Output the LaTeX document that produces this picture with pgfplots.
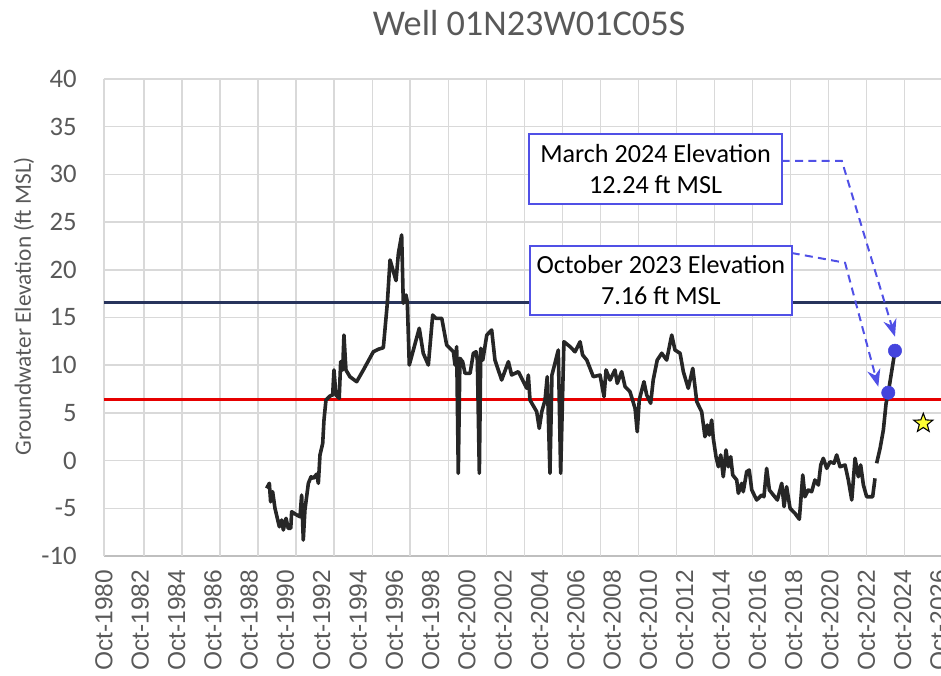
\documentclass[border=0pt]{standalone}
\usepackage{fontspec}
\setmainfont{Carlito}
\newfontfamily\arialfont{Liberation Sans}
\usepackage{pgfplots}
\pgfplotsset{compat=1.18}
\usetikzlibrary{arrows.meta}
\definecolor{gridgray}{HTML}{D9D9D9}
\definecolor{axisgray}{HTML}{BFBFBF}
\definecolor{labelgray}{HTML}{595959}
\definecolor{wellblack}{HTML}{262626}
\definecolor{navyline}{HTML}{28345C}
\definecolor{redline}{HTML}{E60000}
\definecolor{ptblue}{HTML}{4444DD}
\definecolor{annoblue}{HTML}{5050E6}
\definecolor{staryellow}{HTML}{FFFF33}

% filled five-point star with outline
\pgfdeclareplotmark{fivestar}{%
  \pgfpathmoveto{\pgfpointpolar{90}{\pgfplotmarksize}}%
  \pgfpathlineto{\pgfpointpolar{126}{0.42\pgfplotmarksize}}%
  \pgfpathlineto{\pgfpointpolar{162}{\pgfplotmarksize}}%
  \pgfpathlineto{\pgfpointpolar{198}{0.42\pgfplotmarksize}}%
  \pgfpathlineto{\pgfpointpolar{234}{\pgfplotmarksize}}%
  \pgfpathlineto{\pgfpointpolar{270}{0.42\pgfplotmarksize}}%
  \pgfpathlineto{\pgfpointpolar{306}{\pgfplotmarksize}}%
  \pgfpathlineto{\pgfpointpolar{342}{0.42\pgfplotmarksize}}%
  \pgfpathlineto{\pgfpointpolar{18}{\pgfplotmarksize}}%
  \pgfpathlineto{\pgfpointpolar{54}{0.42\pgfplotmarksize}}%
  \pgfpathclose
  \pgfusepathqfillstroke}

\begin{document}
\begin{tikzpicture}
\begin{axis}[
  scale only axis, width=627.75pt, height=357.75pt,
  xmin=1980.75, xmax=2026.866, ymin=-10, ymax=40,
  axis x line=bottom, axis y line=left, axis line style={-},
  x axis line style={draw=axisgray, line width=1.1pt},
  y axis line style={draw=gridgray, line width=1.1pt},
  major tick length=0pt,
  ytick={-10,-5,...,40}, ymajorgrids,
  grid style={draw=gridgray, line width=1.1pt},
  xtick={1980.75,1982.75,...,2026.75},
  xticklabels={Oct-1980,Oct-1982,Oct-1984,Oct-1986,Oct-1988,Oct-1990,Oct-1992,Oct-1994,Oct-1996,Oct-1998,Oct-2000,Oct-2002,Oct-2004,Oct-2006,Oct-2008,Oct-2010,Oct-2012,Oct-2014,Oct-2016,Oct-2018,Oct-2020,Oct-2022,Oct-2024,Oct-2026},
  extra x ticks={1982.96,1985.05,1987.15,1989.24,1991.34,1993.43,1995.53,1997.62,1999.72,2001.81,2003.91,2006.00,2008.10,2010.19,2012.29,2014.38,2016.48,2018.57,2020.67,2022.77,2024.86},
  extra x tick labels={},
  extra x tick style={grid=major},
  /pgf/number format/assume math mode=true,
  yticklabel style={font=\fontsize{20}{24}\selectfont, text=labelgray, xshift=-17pt},
  xticklabel style={font=\arialfont\fontsize{18.4}{22}\selectfont, text=labelgray, rotate=90, anchor=east, xshift=-6.75pt},
  ylabel={Groundwater Elevation (ft MSL)},
  ylabel style={at={(axis description cs:-0.0956,0.524)}, anchor=center, font=\fontsize{17.5}{20}\selectfont, text=labelgray},
  title={Well 01N23W01C05S},
  title style={at={(axis description cs:0.5078,1.1006)}, anchor=center, font=\fontsize{27.2}{32}\selectfont, text=labelgray},
  clip=false,
]
\coordinate (bl) at (rel axis cs:0,0);

% reference levels
\addplot[navyline, line width=2.3pt] coordinates {(1980.75,16.6) (2026.866,16.6)};
\addplot[redline, line width=2.3pt] coordinates {(1980.75,6.43) (2026.866,6.43)};

% groundwater elevation record
\addplot[wellblack, line width=2.7pt, line join=round] coordinates {
(1989.71,-2.90) (1989.86,-2.38) (1989.93,-4.31) (1990.04,-3.26) (1990.17,-5.00)
(1990.41,-6.93) (1990.54,-6.23) (1990.63,-7.27) (1990.78,-6.05) (1990.90,-7.10)
(1991.04,-7.10) (1991.09,-5.36) (1991.37,-5.70) (1991.55,-5.88) (1991.64,-3.61)
(1991.73,-8.32) (1991.82,-5.18) (1992.01,-2.38) (1992.16,-1.69) (1992.28,-1.86)
(1992.47,-1.41) (1992.56,-2.38) (1992.65,0.59) (1992.80,1.81) (1992.87,4.25)
(1992.98,6.35) (1993.20,6.77) (1993.35,6.88) (1993.42,9.50) (1993.53,6.88)
(1993.71,6.53) (1993.79,10.37) (1993.90,9.50) (1993.97,13.16) (1994.08,9.50)
(1994.30,8.79) (1994.67,8.27) (1995.04,9.50) (1995.59,11.41) (1995.86,11.67)
(1996.14,11.83) (1996.36,16.49) (1996.51,21.03) (1996.84,18.86) (1996.97,21.73)
(1997.15,23.65) (1997.24,16.49) (1997.39,17.36) (1997.46,16.66) (1997.57,10.02)
(1998.12,13.87) (1998.34,11.25) (1998.62,10.02) (1998.86,15.26) (1999.04,14.91)
(1999.36,14.91) (1999.63,12.12) (2000.00,11.41) (2000.09,10.02) (2000.18,11.94)
(2000.27,-1.33) (2000.36,10.72) (2000.51,10.37) (2000.64,9.15) (2000.92,9.15)
(2001.10,11.25) (2001.25,11.41) (2001.32,10.54) (2001.43,-1.33) (2001.51,11.77)
(2001.62,10.54) (2001.84,13.16) (2002.11,13.69) (2002.29,10.54) (2002.66,8.45)
(2003.03,10.37) (2003.21,8.97) (2003.58,9.32) (2004.04,7.58) (2004.13,8.97)
(2004.22,6.35) (2004.59,5.13) (2004.73,3.38) (2004.87,5.13) (2005.05,6.35)
(2005.17,8.79) (2005.32,-1.33) (2005.43,8.97) (2005.78,11.59) (2005.91,-1.33)
(2006.09,12.46) (2006.43,11.94) (2006.70,11.41) (2006.98,12.46) (2007.12,11.07)
(2007.35,10.54) (2007.71,8.79) (2008.08,8.97) (2008.30,6.70) (2008.41,9.50)
(2008.63,8.45) (2008.90,9.50) (2009.03,8.10) (2009.27,9.32) (2009.46,7.75)
(2009.73,7.22) (2010.01,5.48) (2010.13,3.03) (2010.24,6.35) (2010.50,8.27)
(2010.65,6.88) (2010.87,6.01) (2011.01,8.45) (2011.23,10.54) (2011.48,11.25)
(2011.75,10.54) (2012.03,13.16) (2012.21,11.59) (2012.49,11.25) (2012.67,9.32)
(2012.94,7.58) (2013.19,9.67) (2013.41,6.17) (2013.68,5.12) (2013.86,2.50)
(2013.99,3.73) (2014.10,2.68) (2014.23,4.25) (2014.32,2.34) (2014.47,0.41)
(2014.60,-0.64) (2014.73,0.59) (2014.87,-1.69) (2015.02,1.11) (2015.15,-0.64)
(2015.28,0.41) (2015.39,-1.51) (2015.61,-2.03) (2015.70,-3.43) (2015.89,-2.38)
(2015.97,-3.26) (2016.16,-1.16) (2016.30,-0.99) (2016.44,-3.08) (2016.71,-4.13)
(2016.99,-3.61) (2017.11,-3.79) (2017.26,-0.81) (2017.41,-3.08) (2017.63,-3.61)
(2017.85,-4.13) (2018.09,-2.38) (2018.22,-4.83) (2018.36,-2.74) (2018.55,-5.00)
(2018.82,-5.53) (2019.06,-6.15) (2019.25,-1.51) (2019.37,-3.79) (2019.55,-3.08)
(2019.74,-3.26) (2019.92,-2.03) (2020.11,-2.56) (2020.24,-0.46) (2020.38,0.24)
(2020.57,-0.81) (2020.75,-0.12) (2020.97,-0.28) (2021.12,0.59) (2021.30,-0.64)
(2021.58,-0.46) (2021.76,-2.03) (2021.95,-4.13) (2022.13,0.24) (2022.31,-1.69)
(2022.44,-0.46) (2022.59,-2.56) (2022.77,-3.79) (2022.95,-3.79) (2023.10,-3.79)
(2023.23,-1.86)
};
\addplot[wellblack, line width=2.7pt, line join=round] coordinates {
(2023.32,-0.28) (2023.51,1.29) (2023.69,3.21) (2023.84,6.01) (2023.96,7.12) (2024.33,11.52)
};

% highlighted readings
\addplot[only marks, mark=*, mark size=5pt, draw=ptblue, fill=ptblue] coordinates {
(2023.96,7.12) (2024.33,11.52)
};
\addplot[only marks, mark=fivestar, mark size=7.5pt, draw=black, fill=staryellow, line width=0.8pt] coordinates {
(2025.89,3.91)
};

% callouts
\draw[annoblue, line width=1.5pt, dash pattern=on 6pt off 4pt, -{Stealth[length=13pt,width=10pt]}]
  (axis cs:2018.09,31.43) -- (axis cs:2021.40,31.43) -- (axis cs:2024.33,12.99);
\draw[annoblue, line width=1.5pt, dash pattern=on 6pt off 4pt, -{Stealth[length=13pt,width=10pt]}]
  (axis cs:2018.64,21.76) -- (axis cs:2021.58,20.74) -- (axis cs:2023.41,7.75);
\node[draw=annoblue, line width=1.5pt, fill=white, minimum width=189.3pt, minimum height=52.5pt,
  inner sep=0pt, align=center, font=\fontsize{19.6}{23.3}\selectfont]
  at (axis cs:2011.14,30.57) {March 2024 Elevation\\12.24 ft MSL};
\node[draw=annoblue, line width=1.5pt, fill=white, minimum width=196.3pt, minimum height=51.75pt,
  inner sep=0pt, align=center, font=\fontsize{19.6}{23.3}\selectfont]
  at (axis cs:2011.43,18.88) {October 2023 Elevation\\7.16 ft MSL};
\end{axis}
\pgfresetboundingbox
\path (bl) ++(-78pt,-89.25pt) rectangle ++(705.75pt,506.25pt);
\end{tikzpicture}
\end{document}
